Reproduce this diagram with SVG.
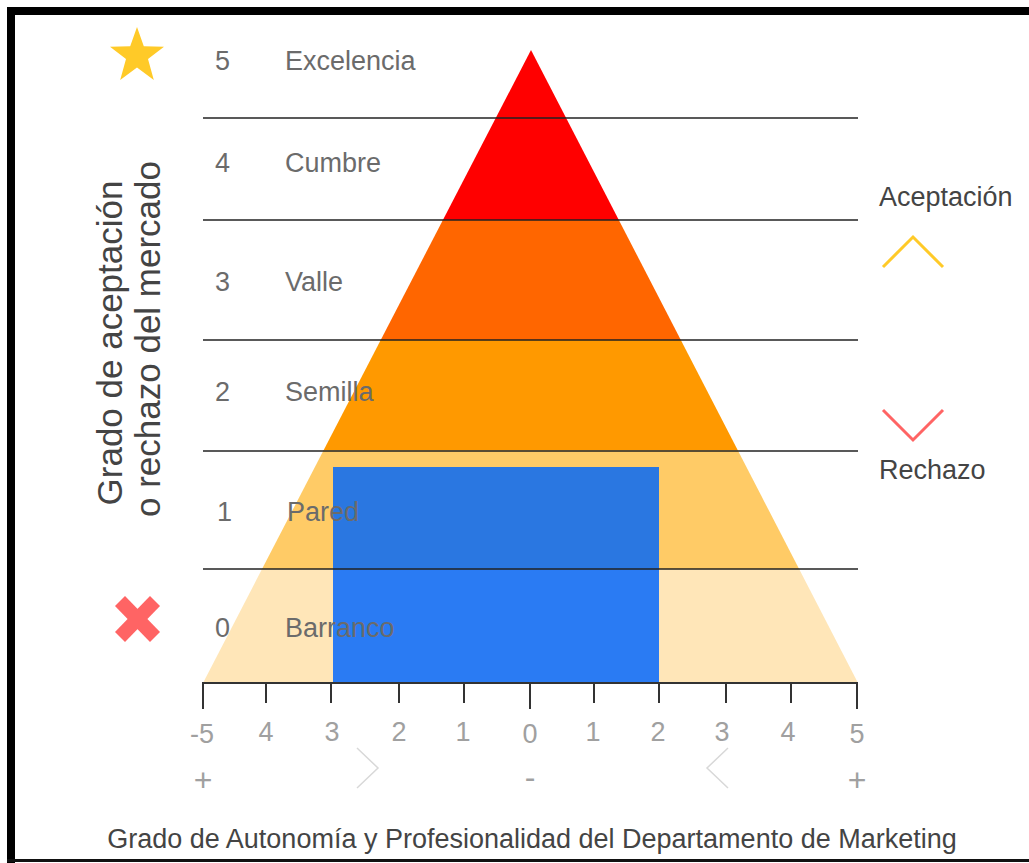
<svg xmlns="http://www.w3.org/2000/svg" width="1029" height="863" viewBox="0 0 1029 863">
  <style>
    .lvl { font-family: "Liberation Sans", Arial, sans-serif; font-size: 27px; fill: #6b6b6b; }
    .tick { font-family: "Liberation Sans", Arial, sans-serif; font-size: 27px; fill: #a0a0a0; text-anchor: middle; }
    .sign { font-family: "Liberation Sans", Arial, sans-serif; font-size: 32px; fill: #a0a0a0; text-anchor: middle; }
    .title { font-family: "Liberation Sans", Arial, sans-serif; fill: #444; }
    .band-line { stroke: #222; stroke-width: 1.6; }
    .axis { stroke: #333; stroke-width: 2; fill: none; }
    .chev { fill: none; stroke-width: 3; }
    .soft { fill: none; stroke: #d8d8d8; stroke-width: 1.5; }
  </style>
  <defs>
    <clipPath id="pyr">
      <polygon points="531,50 203,683 858,683"/>
    </clipPath>
  </defs>

  <rect width="1029" height="863" fill="#fff"/>
  <!-- frame -->
  <rect x="7" y="7" width="1022" height="8" fill="#000"/>
  <rect x="7" y="7" width="8" height="856" fill="#000"/>
  <rect x="7" y="859" width="1022" height="3" fill="#111"/>

  <!-- pyramid bands -->
  <g id="pyramid" clip-path="url(#pyr)">
    <rect x="190" y="40" width="680" height="181" fill="#ff0000"/>
    <rect x="190" y="220" width="680" height="121" fill="#ff6600"/>
    <rect x="190" y="340" width="680" height="111" fill="#ff9900"/>
    <rect x="190" y="450" width="680" height="120" fill="#ffcb66"/>
    <rect x="190" y="569" width="680" height="115" fill="#ffe6b8"/>
  </g>

  <!-- current position block -->
  <g id="position">
    <rect x="333" y="467" width="326" height="102" fill="#2a77e1"/>
    <rect x="333" y="569" width="326" height="114" fill="#2a7bf3"/>
  </g>

  <!-- level separators -->
  <g id="separators">
    <line class="band-line" x1="203" y1="118" x2="858" y2="118"/>
    <line class="band-line" x1="203" y1="220" x2="858" y2="220"/>
    <line class="band-line" x1="203" y1="340" x2="858" y2="340"/>
    <line class="band-line" x1="203" y1="451" x2="858" y2="451"/>
    <line class="band-line" x1="203" y1="569" x2="858" y2="569"/>
  </g>

  <!-- level labels -->
  <g id="level-5"><text class="lvl" x="215" y="70">5</text><text class="lvl" x="285" y="70">Excelencia</text></g>
  <g id="level-4"><text class="lvl" x="215" y="172">4</text><text class="lvl" x="285" y="172">Cumbre</text></g>
  <g id="level-3"><text class="lvl" x="215" y="291">3</text><text class="lvl" x="285" y="291">Valle</text></g>
  <g id="level-2"><text class="lvl" x="215" y="401">2</text><text class="lvl" x="285" y="401">Semilla</text></g>
  <g id="level-1"><text class="lvl" x="217" y="521">1</text><text class="lvl" x="287" y="521">Pared</text></g>
  <g id="level-0"><text class="lvl" x="215" y="637">0</text><text class="lvl" x="285" y="637">Barranco</text></g>

  <!-- star and cross -->
  <g id="star">
    <polygon fill="#ffca28" points="137,27 143.8,46.2 164,46.7 148,59 153.8,80 137,67.5 120.2,80 126,59 110,46.7 130.2,46.2"/>
  </g>
  <g id="cross" stroke="#ff6464" stroke-width="14" stroke-linecap="butt">
    <line x1="120" y1="601" x2="155" y2="637"/>
    <line x1="155" y1="601" x2="120" y2="637"/>
  </g>

  <!-- vertical axis title -->
  <g id="y-title" class="title" font-size="35" text-anchor="middle" fill="#555">
    <text transform="translate(122,343) rotate(-90)">Grado de aceptación</text>
    <text transform="translate(160,339) rotate(-90)">o rechazo del mercado</text>
  </g>

  <!-- legend -->
  <g id="legend-accept">
    <text class="title" x="879" y="206" font-size="27">Aceptación</text>
    <polyline class="chev" stroke="#ffca28" points="883,267 913,237 943,267"/>
  </g>
  <g id="legend-reject">
    <polyline class="chev" stroke="#ff6464" points="883,410 913,440 943,410"/>
    <text class="title" x="879" y="479" font-size="27">Rechazo</text>
  </g>

  <!-- horizontal axis -->
  <g id="x-axis">
    <line class="axis" x1="202" y1="683" x2="858" y2="683"/>
    <path class="axis" d="M203 683V709M266 683V703M331 683V703M399 683V703M464 683V703M530 683V709M594 683V703M659 683V703M726 683V703M791 683V703M857 683V709"/>
    <text class="tick" x="202" y="743">-5</text>
    <text class="tick" x="266" y="741">4</text>
    <text class="tick" x="332" y="741">3</text>
    <text class="tick" x="399" y="741">2</text>
    <text class="tick" x="463" y="741">1</text>
    <text class="tick" x="530" y="743">0</text>
    <text class="tick" x="593" y="741">1</text>
    <text class="tick" x="658" y="741">2</text>
    <text class="tick" x="722" y="741">3</text>
    <text class="tick" x="788" y="741">4</text>
    <text class="tick" x="857" y="743">5</text>
    <text class="sign" x="203" y="791">+</text>
    <text class="sign" x="530" y="788">-</text>
    <text class="sign" x="857" y="791">+</text>
    <polyline class="soft" points="357,748 378,768 357,788"/>
    <polyline class="soft" points="728,748 707,768 728,788"/>
  </g>

  <text id="x-title" class="title" x="532" y="848" font-size="27" text-anchor="middle">Grado de Autonomía y Profesionalidad del Departamento de Marketing</text>
</svg>
